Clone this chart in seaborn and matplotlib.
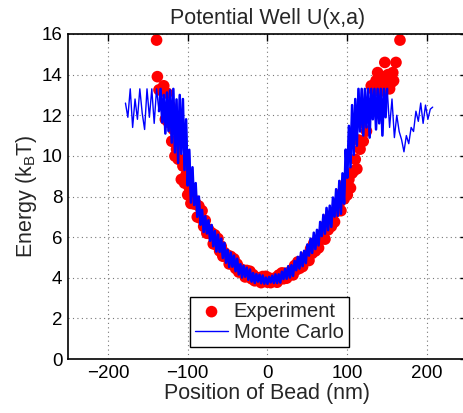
import numpy as np
import pandas as pd
import matplotlib
matplotlib.use("Agg")
import matplotlib.pyplot as plt
import seaborn as sns

# ---------------- data ----------------
# Monte Carlo trace: position (nm) and energy (kBT)
mc_x = [-178, -175, -172, -169, -166, -163, -160, -157, -154, -151, -148, -145, -142, -139, -136,
        -134, -132, -130, -128, -126, -124, -122, -120, -118, -116, -114, -112, -110, -108,
        -106, -104, -102, -100, -98, -96, -94, -92, -90, -88, -86, -84, -82, -80, -78, -76,
        -74, -72, -70, -68,
        -66, -64, -62, -60, -58, -56, -54, -52, -50, -48, -46, -44, -42, -40, -38, -36, -34,
        -32, -30, -28, -26, -24, -22, -20, -18, -16, -14, -12, -10, -8, -6, -4, -2,
        0, 2, 4, 6, 8, 10, 12, 14, 16, 18, 20, 22, 24, 26, 28, 30, 32, 34, 36, 38,
        40, 42, 44, 46, 48, 50, 52, 54, 56, 58, 60, 62, 64, 66, 68, 70, 72, 74, 76, 78,
        80, 82, 84, 86, 88, 90, 92, 94, 96, 98, 100, 102, 104, 106, 108, 110, 112, 114, 116, 118,
        120, 122, 124, 126, 128, 130, 132, 134, 136, 138, 140, 142, 144, 146, 148, 150,
        153, 156, 159, 162, 165, 168, 171, 174, 177, 180, 183, 186, 189, 192, 195, 198, 201,
        204, 207]
mc_u = [12.6, 11.9, 13.3, 11.4, 12.8, 11.8, 13.3, 12.1, 11.3, 13.3, 11.9, 13.3, 11.6, 13.3, 12.2,
        13.3, 11.65, 13.0, 11.1, 13.12, 11.22, 13.23, 10.65, 13.3, 10.17, 12.78, 9.65, 13.0, 10.1,
        12.8, 9.3, 11.8, 8.54, 10.3, 7.7, 9.44, 7.58, 8.66, 7.0, 8.0, 6.61, 7.34, 6.25, 7.03, 6.18,
        6.83, 5.82, 6.6, 5.55,
        6.30, 5.29, 6.12, 5.27, 5.93, 4.97, 5.72, 4.74, 5.37, 4.53, 5.24, 4.54, 5.09, 4.32, 4.94,
        4.16, 4.67, 4.01, 4.59, 4.05, 4.50, 3.90, 4.41, 3.81, 4.23, 3.74, 4.18, 3.81, 4.15, 3.73,
        4.11, 3.71, 4.01,
        3.70, 4.04, 3.77, 4.10, 3.74, 4.17, 3.74, 4.17, 3.76, 4.30, 3.93, 4.44, 3.95, 4.57, 4.01,
        4.62, 4.09, 4.83, 4.37, 5.03, 4.45, 5.25, 4.57, 5.33, 4.72, 5.64, 5.09, 5.93, 5.22, 6.22,
        5.41, 6.36, 5.59, 6.75, 6.05, 7.10, 6.17, 7.44, 6.34, 7.55, 6.50, 7.95, 7.01, 8.36, 7.05,
        8.77, 7.15, 9.14, 7.65, 10.31, 8.92, 11.48, 9.44, 12.5, 10.05, 12.8, 10.5, 13.3, 11.2, 13.3,
        11.0, 13.3, 11.4, 13.3, 10.9, 13.3, 11.8, 13.3, 11.3, 13.3, 11.6, 13.3, 11.0, 13.3, 11.9,
        13.3,
        11.4, 12.8, 10.9, 12.0, 11.2, 10.8, 10.2, 11.0, 10.6, 11.4, 11.2, 12.2, 11.7, 12.6, 11.6,
        12.5, 11.8, 12.3, 12.4]

# Experiment: main well points
exp_x = [-130, -128, -126, -124, -122, -120, -118, -116, -114, -112,
         -110, -108, -106, -104, -102, -100, -98, -96, -94, -92,
         -90, -88, -86, -84, -82, -80, -78, -76, -74, -72,
         -70, -68, -66, -64, -62, -60, -58, -56, -54, -52,
         -50, -48, -46, -44, -42, -40, -38, -36, -34, -32,
         -30, -28, -26, -24, -22, -20, -18, -16, -14, -12,
         -10, -8, -6, -4, -2, 0, 2, 4, 6, 8,
         10, 12, 14, 16, 18, 20, 22, 24, 26, 28,
         30, 32, 34, 36, 38, 40, 42, 44, 46, 48,
         50, 52, 54, 56, 58, 60, 62, 64, 66, 68,
         70, 72, 74, 76, 78, 80, 82, 84, 86, 88,
         90, 92, 94, 96, 98, 100, 102, 104, 106, 108,
         110, 112, 114, 116, 118, 120, 122, 124, 126, 128,
         130]
exp_u = [13.45, 11.80, 13.09, 11.65, 12.45, 10.72, 11.30, 9.99, 10.33, 9.84,
         9.83, 8.84, 9.50, 8.66, 9.07, 8.08, 8.44, 7.66, 7.92, 7.63,
         7.67, 6.99, 7.53, 6.93, 7.30, 6.53, 6.82, 6.19, 6.39, 6.16,
         6.21, 5.67, 6.11, 5.62, 5.93, 5.32, 5.55, 5.06, 5.24, 5.07,
         5.11, 4.68, 5.05, 4.67, 4.93, 4.46, 4.67, 4.28, 4.44, 4.32,
         4.37, 4.04, 4.36, 4.08, 4.32, 3.95, 4.15, 3.85, 4.01, 3.92,
         4.00, 3.76, 4.06, 3.84, 4.07, 3.78, 3.99, 3.76, 3.94, 3.90,
         4.00, 3.78, 4.13, 3.95, 4.24, 3.95, 4.22, 3.98, 4.22, 4.21,
         4.37, 4.14, 4.60, 4.39, 4.78, 4.46, 4.81, 4.55, 4.88, 4.89,
         5.11, 4.85, 5.43, 5.20, 5.70, 5.32, 5.78, 5.47, 5.89, 5.92,
         6.21, 5.90, 6.63, 6.36, 6.99, 6.53, 7.12, 6.75, 7.27, 7.30,
         7.67, 7.30, 8.21, 7.88, 8.66, 8.08, 8.84, 8.42, 9.15, 9.26,
         9.83, 9.36, 10.78, 10.33, 11.66, 10.72, 12.04, 11.22, 12.46, 12.56,
         13.45]
# Experiment: high-energy points at the walls
out_x = [-139, -138, -136, 134, 136, 138, 141, 143, 145, 147, 149, 151, 153, 155, 157, 158,
         161, 166]
out_u = [15.7, 13.9, 13.25, 13.2, 13.7, 14.1, 13.6, 13.2, 13.9, 14.6, 13.5, 14.0, 13.3, 13.6,
         14.1, 13.7, 14.6, 15.7]

x_ticks = [-200, -100, 0, 100, 200]
y_ticks = [0, 2, 4, 6, 8, 10, 12, 14, 16]

mc = pd.DataFrame({"x": mc_x, "u": mc_u})
ex = pd.DataFrame({"x": exp_x + out_x, "u": exp_u + out_u})
mc_core = mc[(mc["x"] >= -136) & (mc["x"] <= 150)]

# ---------------- style ----------------
sns.set_theme(style="white")
plt.rcParams["font.family"] = ["Liberation Sans", "DejaVu Sans"]
plt.rcParams["mathtext.default"] = "regular"

fig = plt.figure(figsize=(4.64, 4.13), dpi=100)
ax = fig.add_axes([68 / 464, 54 / 413, 399 / 464, 325 / 413])

sns.scatterplot(data=ex, x="x", y="u", color="#ff0000", s=70, edgecolor="none",
                linewidth=0, ax=ax, label="Experiment", zorder=2)
sns.lineplot(data=mc, x="x", y="u", color="#0000ff", lw=1.0, estimator=None, sort=False,
             ax=ax, label="Monte Carlo", zorder=3)
# dense central part of the same trace drawn with a heavier stroke
sns.lineplot(data=mc_core, x="x", y="u", color="#0000ff", lw=1.8, estimator=None, sort=False,
             ax=ax, legend=False, zorder=3)

ax.set_xlim(-250, 250)
ax.set_ylim(0, 16)
ax.set_xticks(x_ticks)
ax.set_yticks(y_ticks)
ax.grid(True, linestyle=(0, (1, 3)), color="#777777", lw=0.8)
for s in ax.spines.values():
    s.set_color("black")
    s.set_linewidth(1.2)
ax.tick_params(direction="in", top=True, right=True, length=5, width=1,
               labelsize=13.5, colors="black", pad=4)

ax.set_title("Potential Well U(x,a)", fontsize=15.5, pad=7)
ax.set_xlabel("Position of Bead (nm)", fontsize=15.5, labelpad=1)
ax.set_ylabel("Energy (k$_B$T)", fontsize=15.5, labelpad=2)

leg = ax.legend(loc="lower center", bbox_to_anchor=(0.505, 0.037), frameon=True,
                fancybox=False, edgecolor="black", fontsize=14.5, borderaxespad=0,
                handlelength=1.6, handletextpad=0.3, framealpha=1, borderpad=0.25,
                labelspacing=0.1)
leg.get_frame().set_linewidth(1.0)

fig.savefig("out.png", dpi=100)
